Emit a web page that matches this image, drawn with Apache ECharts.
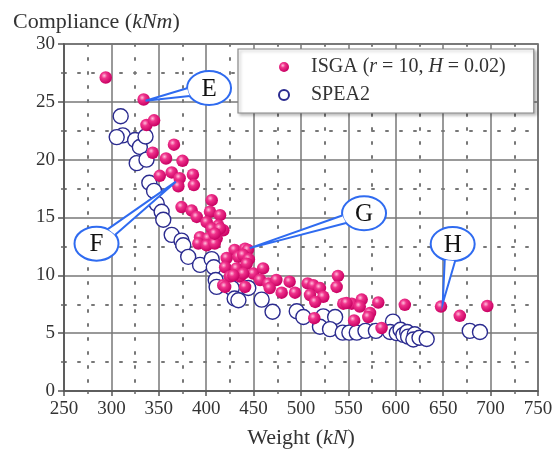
<!DOCTYPE html>
<html><head><meta charset="utf-8">
<script src="https://cdn.jsdelivr.net/npm/echarts@6/dist/echarts.min.js"></script>
<style>html,body{margin:0;padding:0;background:#fff}#c{width:557px;height:454px}</style>
</head><body><div id="c"></div>
<script>
// ---- data ----
const xTicks = [250, 300, 350, 400, 450, 500, 550, 600, 650, 700, 750];
const yTicks = [0, 5, 10, 15, 20, 25, 30];
const seriesNames = ['ISGA (r = 10, H = 0.02)', 'SPEA2'];
const isgaPoints = [
  [294,27.1],[334,25.2],[337,23.0],[345,23.4],[343.5,20.6],[366,21.3],[357.6,20.1],[375,19.9],
  [363.6,18.9],[351,18.6],[372,18.4],[386,18.7],[387,17.8],[370.6,17.7],[405.8,16.5],[374,15.9],
  [384.7,15.6],[390,15.05],[404,15.5],[414.6,15.2],[400.5,14.6],[412.8,14.3],[405.8,14.05],[418,13.9],
  [393.5,13.3],[402,13.2],[411,13.2],[391.7,12.75],[400.5,12.6],[409,12.75],[414.6,14.05],[409,13.6],
  [430,12.2],[441,12.3],[444,12.2],[421.6,11.5],[434,11.6],[439,11.75],[445,11.4],[420,10.7],[432,10.6],
  [442.7,11.0],[425,9.9],[435.7,9.9],[418,9.15],[449.7,10.15],[460,10.6],[439,10.15],[428.6,10.0],
  [456.8,9.6],[465.5,9.3],[474,9.6],[488,9.45],[479.6,8.5],[493.7,8.5],[467,8.9],[441,9.0],[420,9.0],
  [507,9.3],[513,9.15],[520,8.9],[509.5,8.3],[523.5,8.15],[515,7.7],[539,9.95],[537.6,9.0],
  [544.6,7.55],[553.5,7.55],[564,7.9],[562,7.3],[572.8,6.75],[571,6.4],[581.5,7.65],[609.5,7.45],
  [514,6.3],[556,6.1],[585,5.45],[647.7,7.3],[667.5,6.5],[696.5,7.35],[548,7.6]
];
const speaPoints = [
  [309.8,23.75],[312,22.1],[305.6,21.95],[325,21.7],[330,21.1],[336,22.0],[326.7,19.7],[337,20.0],
  [340,18.0],[345,17.3],[347.8,16.2],[353,15.5],[354.7,14.8],[363.6,13.5],[374,13.0],[375.8,12.6],
  [381,11.6],[393.5,10.9],[405.8,11.4],[408,10.7],[410,9.6],[411,9.0],[427,8.9],[430,8.0],[434,7.85],
  [444.4,8.9],[458.5,7.9],[470,6.85],[495.5,6.9],[502.5,6.4],[523.5,6.45],[536,6.4],[520,5.55],
  [530.6,5.35],[544,5.05],[551,5.05],[558.8,5.05],[568,5.2],[579,5.2],[597,6.0],[594,5.1],[601,5.0],
  [605,5.3],[608,4.85],[612,5.1],[613,4.7],[620,4.9],[618.5,4.45],[625,4.6],[632.6,4.5],[678,5.2],[688.8,5.1]
];
// callouts: label, bubble centre (data coords), pointer target (data coords)
const calloutLabels = ['E', 'F', 'G', 'H'];
const calloutCenters = [[403, 26.2], [284.3, 12.74], [566.5, 15.37], [660, 12.7]];
const calloutTargets = [[336, 25.1], [368, 18.1], [446, 12.35], [649.5, 7.57]];

const SERIF = '"Liberation Serif","DejaVu Serif",serif';
const chart = echarts.init(document.getElementById('c'));

const pink = {
  type: 'radial', x: 0.38, y: 0.35, r: 0.65,
  colorStops: [{offset: 0, color: '#ffc0dc'}, {offset: 0.35, color: '#f0338c'}, {offset: 1, color: '#c80062'}]
};
function rich(size) {
  return {
    s: {width: 17},
    n: {fontFamily: SERIF, fontSize: size, color: '#333', fontWeight: 'normal'},
    i: {fontFamily: SERIF, fontSize: size, color: '#333', fontWeight: 'normal', fontStyle: 'italic'}
  };
}

chart.setOption({
  animation: false,
  backgroundColor: '#fff',
  title: {
    text: '{n|Compliance (}{i|kNm}{n|)}', left: 8, top: 6,
    textStyle: { fontWeight: 'normal', rich: rich(22) }
  },
  grid: { left: 64, right: 19, top: 44, bottom: 63, show: true, borderColor: '#555', borderWidth: 1.5 },
  legend: {
    data: seriesNames, orient: 'vertical', left: 238, top: 49,
    padding: [8, 28, 8, 40], itemGap: 8, itemWidth: 10, itemHeight: 10,
    backgroundColor: '#fff', borderColor: '#888', borderWidth: 1.2,
    shadowColor: 'rgba(0,0,0,0.25)', shadowBlur: 3, shadowOffsetX: 2, shadowOffsetY: 2,
    textStyle: { fontFamily: SERIF, fontSize: 20, color: '#222', rich: rich(20) },
    formatter: function (name) {
      if (name === seriesNames[0]) return '{s|}{n|ISGA (}{i|r}{n| = 10, }{i|H}{n| = 0.02)}';
      return '{s|}{n|' + name + '}';
    }
  },
  xAxis: {
    type: 'value', min: xTicks[0], max: xTicks[xTicks.length - 1], interval: 50,
    name: '{n|Weight (}{i|kN}{n|)}', nameLocation: 'middle', nameGap: 36,
    nameTextStyle: { rich: rich(22) },
    axisLine: {show: true, lineStyle: {color: '#555', width: 1.5}},
    axisTick: {show: true, length: 5, lineStyle: {color: '#555', width: 1.5}},
    minorTick: {show: true, splitNumber: 2, length: 3, lineStyle: {color: '#666', width: 1.5}},
    axisLabel: {fontFamily: SERIF, fontSize: 19, color: '#333', margin: 9},
    splitLine: {show: true, lineStyle: {color: '#777', width: 1.5}},
    minorSplitLine: {show: true, lineStyle: {color: '#777', width: 2, type: [2, 12], cap: 'round'}}
  },
  yAxis: {
    type: 'value', min: yTicks[0], max: yTicks[yTicks.length - 1], interval: 5,
    axisLine: {show: true, lineStyle: {color: '#555', width: 1.5}},
    axisTick: {show: true, length: 6, lineStyle: {color: '#555', width: 1.5}},
    minorTick: {show: true, splitNumber: 2, length: 3, lineStyle: {color: '#666', width: 1.5}},
    axisLabel: {fontFamily: SERIF, fontSize: 19, color: '#333', margin: 9},
    splitLine: {show: true, lineStyle: {color: '#777', width: 1.5}},
    minorSplitLine: {show: true, lineStyle: {color: '#777', width: 2, type: [2, 12], cap: 'round'}}
  },
  series: [
    { name: seriesNames[0], type: 'scatter', data: isgaPoints, symbol: 'circle', symbolSize: 12.5, z: 4,
      itemStyle: {color: pink, opacity: 1} },
    { name: seriesNames[1], type: 'scatter', data: speaPoints, symbol: 'circle', symbolSize: 15, z: 3,
      itemStyle: {color: '#fff', borderColor: '#2b2b8f', borderWidth: 1.4, opacity: 1} }
  ]
});

// callout bubbles placed through the grid's coordinate system
const graphics = [];
calloutLabels.forEach(function (lab, i) {
  const c = chart.convertToPixel({gridIndex: 0}, calloutCenters[i]);
  const t = chart.convertToPixel({gridIndex: 0}, calloutTargets[i]);
  const rx = 22, ry = 17;
  const th = Math.atan2((t[1] - c[1]) / ry, (t[0] - c[0]) / rx);
  const d = 0.24;
  const b1 = [c[0] + rx * Math.cos(th - d), c[1] + ry * Math.sin(th - d)];
  const b2 = [c[0] + rx * Math.cos(th + d), c[1] + ry * Math.sin(th + d)];
  graphics.push({type: 'ellipse', z: 100, shape: {cx: c[0], cy: c[1], rx: rx, ry: ry},
    style: {fill: '#fff', stroke: '#2f6bf0', lineWidth: 2}});
  graphics.push({type: 'polygon', z: 101, shape: {points: [b1, t, b2]}, style: {fill: '#fff', stroke: null}});
  graphics.push({type: 'polyline', z: 102, shape: {points: [b1, t, b2]},
    style: {stroke: '#2f6bf0', lineWidth: 2, fill: null}});
  graphics.push({type: 'text', z: 103, x: c[0], y: c[1] + 1,
    style: {text: lab, fontFamily: SERIF, fontSize: 25, fill: '#111', align: 'center', verticalAlign: 'middle'}});
});
chart.setOption({graphic: graphics});
</script></body></html>
